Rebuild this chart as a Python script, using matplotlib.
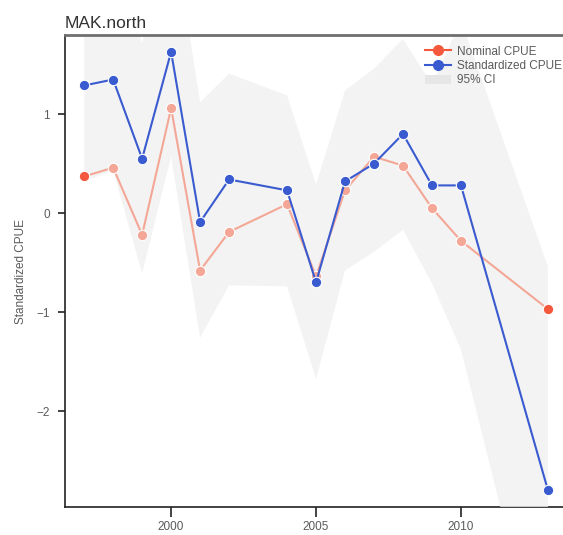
import matplotlib
matplotlib.use("Agg")
import matplotlib.pyplot as plt
from matplotlib.lines import Line2D
from matplotlib.patches import Patch

years = [1997, 1998, 1999, 2000, 2001, 2002, 2004, 2005, 2006, 2007, 2008, 2009, 2010, 2013]
nominal = [0.37, 0.46, -0.22, 1.06, -0.58, -0.19, 0.09, -0.64, 0.23, 0.57, 0.48, 0.05, -0.28, -0.97]
standardized = [1.29, 1.35, 0.55, 1.63, -0.09, 0.34, 0.23, -0.70, 0.32, 0.50, 0.80, 0.28, 0.28, -2.80]
ci_upper = [2.3, 2.5, 1.72, 3.0, 1.12, 1.41, 1.19, 0.29, 1.24, 1.46, 1.76, 1.30, 1.95, -0.54]
ci_lower = [0.32, 0.43, -0.61, 0.57, -1.26, -0.73, -0.74, -1.68, -0.58, -0.39, -0.17, -0.71, -1.38, -4.9]

xticks = [2000, 2005, 2010]
yticks = [-2, -1, 0, 1]

blue = "#3a5bd0"
red = "#f4583d"
salmon = "#f4a796"
txt = "#5a5a5a"

plt.rcParams["font.family"] = ["Liberation Sans", "DejaVu Sans"]

fig = plt.figure(figsize=(5.63, 5.35), dpi=100)
ax = fig.add_axes([0.1155, 0.0523, 0.8845, 0.8823])

ax.fill_between(years, ci_lower, ci_upper, color="#f0f0f0", alpha=0.75,
                linewidth=0, zorder=3)

ax.plot(years, nominal, color=salmon, lw=1.5, marker="o", ms=7.5,
        mfc=salmon, mec="white", mew=0.8, zorder=4)
ax.plot([years[0], years[-1]], [nominal[0], nominal[-1]], ls="none",
        marker="o", ms=7.5, mfc=red, mec="white", mew=0.8, zorder=4)
ax.plot(years, standardized, color=blue, lw=1.5, marker="o", ms=7.5,
        mfc=blue, mec="white", mew=0.8, zorder=5)

ax.set_xlim(1996.34, 2013.52)
ax.set_ylim(-2.97, 1.80)
ax.set_xticks(xticks)
ax.set_yticks(yticks)
ax.set_yticklabels(["\u22122", "\u22121", "0", "1"])

for s in ["left", "bottom"]:
    ax.spines[s].set_color("#222222")
    ax.spines[s].set_linewidth(1.2)
    ax.spines[s].set_zorder(2)
ax.spines["right"].set_visible(False)
ax.spines["top"].set_color("#6f6f6f")
ax.spines["top"].set_linewidth(2)
ax.spines["top"].set_zorder(6)

ax.tick_params(axis="x", length=7, width=1.2, color="#222222",
               labelcolor=txt, labelsize=8.5, pad=3)
ax.tick_params(axis="y", length=5, width=1.2, color="#222222",
               labelcolor=txt, labelsize=8.5, pad=6)

ax.set_ylabel("Standardized CPUE", color=txt, fontsize=8.5, labelpad=7)
ax.set_title("MAK.north", loc="left", color="#333333", fontsize=12.5, pad=5)

handles = [
    Line2D([], [], color=red, lw=1.5, marker="o", ms=7, mfc=red, mec=red),
    Line2D([], [], color=blue, lw=1.5, marker="o", ms=7, mfc=blue, mec=blue),
    Patch(facecolor="#e6e6e6", edgecolor="none"),
]
ax.legend(handles, ["Nominal CPUE", "Standardized CPUE", "95% CI"],
          loc="upper right", bbox_to_anchor=(1.02, 1.0), frameon=False,
          fontsize=8.5, labelcolor=txt, handlelength=2.2, handletextpad=0.5,
          labelspacing=0.2, handleheight=0.8)

fig.savefig("out.png", dpi=100)
